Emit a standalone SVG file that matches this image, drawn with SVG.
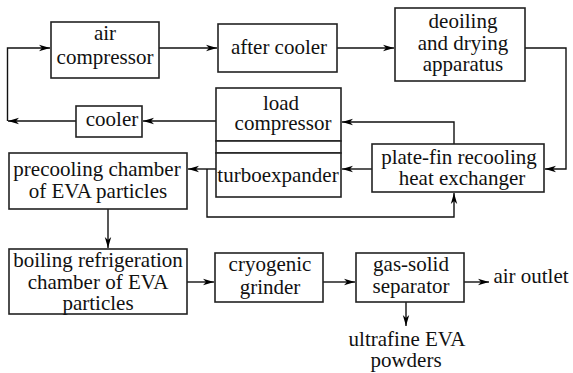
<svg xmlns="http://www.w3.org/2000/svg" width="573" height="373" viewBox="0 0 573 373">
<defs>
<marker id="ah" markerWidth="12" markerHeight="8" refX="11" refY="4" orient="auto" markerUnits="userSpaceOnUse">
<path d="M0,0.8 L11,4 L0,7.2 L3,4 Z" fill="#000"/>
</marker>
</defs>
<style>
.box{fill:#fff;stroke:#222;stroke-width:1.6}
.t{font-family:"Liberation Serif","Times New Roman",serif;font-size:21px;fill:#111;text-anchor:middle}
.ln{fill:none;stroke:#111;stroke-width:1.4}
.ar{marker-end:url(#ah)}
</style>
<rect width="573" height="373" fill="#fff"/>
<g id="connectors">
<path class="ln ar" d="M159,48 H217"/>
<path class="ln ar" d="M337,48 H394"/>
<path class="ln ar" d="M525,48 H566 V169 H545"/>
<path class="ln ar" d="M454,144 V122 H342"/>
<path class="ln ar" d="M216,121 H143"/>
<path class="ln ar" d="M76,121 H8"/>
<path class="ln ar" d="M7.5,121 V48 H50"/>
<path class="ln ar" d="M372,169 H342"/>
<path class="ln ar" d="M216,169 H188"/>
<path class="ln ar" d="M207,169 V217 H454 V193"/>
<path class="ln ar" d="M108,209 V248"/>
<path class="ln ar" d="M187,282 H214"/>
<path class="ln ar" d="M323,282 H355"/>
<path class="ln ar" d="M464,282 H489"/>
<path class="ln ar" d="M406,302 V326"/>
</g>
<g id="air-compressor">
<rect class="box" x="51" y="22" width="108" height="56"/>
<text class="t" x="105" y="40">air</text>
<text class="t" x="105" y="64">compressor</text>
</g>
<g id="after-cooler">
<rect class="box" x="218" y="24" width="119" height="48"/>
<text class="t" x="279" y="54">after cooler</text>
</g>
<g id="deoiling">
<rect class="box" x="395" y="8" width="130" height="73"/>
<text class="t" x="463" y="28">deoiling</text>
<text class="t" x="463" y="50">and drying</text>
<text class="t" x="463" y="71">apparatus</text>
</g>
<g id="load-compressor">
<rect class="box" x="216" y="88" width="125" height="53"/>
<text class="t" x="281" y="110">load</text>
<text class="t" x="283" y="130">compressor</text>
</g>
<g id="shaft">
<rect class="box" x="216" y="141" width="125" height="12"/>
</g>
<g id="turboexpander">
<rect class="box" x="216" y="153" width="125" height="44"/>
<text class="t" x="278" y="182">turboexpander</text>
</g>
<g id="cooler">
<rect class="box" x="76" y="106" width="66" height="31"/>
<text class="t" x="112" y="126">cooler</text>
</g>
<g id="plate-fin">
<rect class="box" x="372" y="144" width="172" height="48"/>
<text class="t" x="459" y="164">plate-fin recooling</text>
<text class="t" x="462" y="185">heat exchanger</text>
</g>
<g id="precooling">
<rect class="box" x="9" y="153" width="178" height="56"/>
<text class="t" x="97" y="176">precooling chamber</text>
<text class="t" x="98" y="198">of EVA particles</text>
</g>
<g id="boiling">
<rect class="box" x="9" y="249" width="178" height="65"/>
<text class="t" x="98" y="267">boiling refrigeration</text>
<text class="t" x="98" y="289">chamber of EVA</text>
<text class="t" x="98" y="310">particles</text>
</g>
<g id="cryogenic-grinder">
<rect class="box" x="215" y="253" width="108" height="49"/>
<text class="t" x="270" y="271">cryogenic</text>
<text class="t" x="270" y="294">grinder</text>
</g>
<g id="gas-solid-separator">
<rect class="box" x="356" y="253" width="108" height="49"/>
<text class="t" x="411" y="271">gas-solid</text>
<text class="t" x="411" y="293">separator</text>
</g>
<g id="air-outlet">
<text class="t" x="531" y="283">air outlet</text>
</g>
<g id="ultrafine-powders">
<text class="t" x="407" y="346">ultrafine EVA</text>
<text class="t" x="406" y="367">powders</text>
</g>
</svg>
